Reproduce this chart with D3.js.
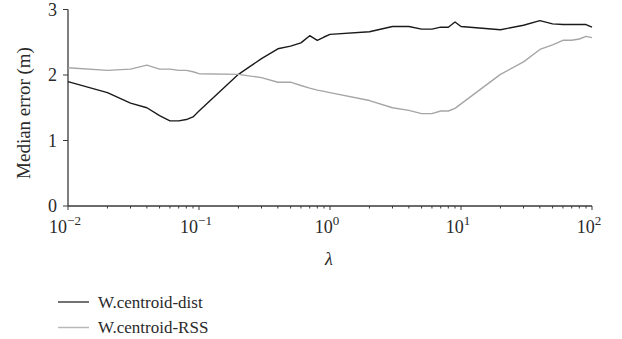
<!DOCTYPE html>
<html>
<head>
<meta charset="utf-8">
<script src="https://cdn.jsdelivr.net/npm/d3@7"></script>
<style>
  html, body { margin: 0; padding: 0; background: #fff; }
  svg { display: block; }
</style>
</head>
<body>
<svg id="chart" width="622" height="339"></svg>
<script>
// Regularisation weight λ sampled on a log grid
const lambdas = [0.01, 0.02, 0.03, 0.04, 0.05, 0.06, 0.07, 0.08, 0.09,
                 0.1, 0.2, 0.3, 0.4, 0.5, 0.6, 0.7, 0.8, 0.9,
                 1, 2, 3, 4, 5, 6, 7, 8, 9,
                 10, 20, 30, 40, 50, 60, 70, 80, 90, 100];

// Median localisation error (m) for each weighting scheme
const distError = [1.90, 1.73, 1.57, 1.50, 1.38, 1.30, 1.30, 1.32, 1.36,
                   1.45, 2.01, 2.25, 2.40, 2.44, 2.49, 2.60, 2.53, 2.58,
                   2.62, 2.66, 2.74, 2.74, 2.70, 2.70, 2.73, 2.73, 2.81,
                   2.74, 2.69, 2.76, 2.83, 2.78, 2.77, 2.77, 2.77, 2.77, 2.73];
const rssError  = [2.11, 2.07, 2.09, 2.15, 2.09, 2.09, 2.07, 2.07, 2.05,
                   2.02, 2.01, 1.96, 1.89, 1.89, 1.84, 1.80, 1.77, 1.75,
                   1.73, 1.61, 1.50, 1.46, 1.41, 1.41, 1.45, 1.45, 1.49,
                   1.56, 2.01, 2.20, 2.39, 2.46, 2.53, 2.53, 2.55, 2.59, 2.57];

const seriesNames = ["W.centroid-dist", "W.centroid-RSS"];
const seriesColors = ["#1a1a1a", "#a6a6a6"];
const yTicks = [0, 1, 2, 3];
const xTickExps = [-2, -1, 0, 1, 2];

const serif = "'Liberation Serif', 'Times New Roman', 'DejaVu Serif', serif";
const svg = d3.select("#chart")
  .style("font-family", serif)
  .attr("font-family", serif);
const plotLeft = 68, plotRight = 592, plotTop = 9.5, plotBottom = 206;

const x = d3.scaleLog().domain([0.01, 100]).range([plotLeft, plotRight]);
const y = d3.scaleLinear().domain([0, 3]).range([plotBottom, plotTop]);

const axisColor = "#3a3a3a";
const textColor = "#2a2a2a";

// x axis with major and minor ticks
const xAxis = svg.append("g").attr("transform", `translate(0,${plotBottom})`);
xAxis.append("line").attr("x1", plotLeft).attr("x2", plotRight)
  .attr("stroke", axisColor).attr("stroke-width", 1.3);
const minorTicks = [];
for (let e = -2; e < 2; e++) for (let m = 2; m <= 9; m++) minorTicks.push(m * Math.pow(10, e));
xAxis.selectAll("line.minor").data(minorTicks).join("line").attr("class", "minor")
  .attr("x1", d => x(d)).attr("x2", d => x(d)).attr("y1", 0).attr("y2", 2.5)
  .attr("stroke", axisColor).attr("stroke-width", 1);
xAxis.selectAll("line.major").data(xTickExps).join("line").attr("class", "major")
  .attr("x1", d => x(Math.pow(10, d))).attr("x2", d => x(Math.pow(10, d)))
  .attr("y1", 0).attr("y2", 4).attr("stroke", axisColor).attr("stroke-width", 1);
const xl = xAxis.selectAll("text.tl").data(xTickExps).join("text").attr("class", "tl")
  .attr("x", d => x(Math.pow(10, d)) - 3).attr("y", 27)
  .attr("text-anchor", "middle").attr("font-size", 18).attr("fill", textColor);
xl.append("tspan").text("10");
xl.append("tspan").attr("dy", -8).attr("font-size", 13).text(d => d < 0 ? "\u2212" + (-d) : d);

// y axis
const yAxis = svg.append("g").attr("transform", `translate(${plotLeft},0)`);
yAxis.append("line").attr("y1", plotTop).attr("y2", plotBottom)
  .attr("stroke", axisColor).attr("stroke-width", 1.3);
yAxis.selectAll("line.tk").data(yTicks).join("line").attr("class", "tk")
  .attr("x1", -5).attr("x2", 0).attr("y1", d => y(d)).attr("y2", d => y(d))
  .attr("stroke", axisColor).attr("stroke-width", 1);
yAxis.selectAll("text").data(yTicks).join("text")
  .attr("x", -11).attr("y", d => y(d) + 6).attr("fill", textColor)
  .attr("text-anchor", "end").attr("font-size", 18).text(d => d);

// axis titles
svg.append("text").attr("transform", "translate(30,113) rotate(-90)")
  .attr("text-anchor", "middle").attr("font-size", 19).attr("fill", textColor)
  .text("Median error (m)");
svg.append("text").attr("x", (plotLeft + plotRight) / 2 - 1).attr("y", 265)
  .attr("text-anchor", "middle").attr("font-size", 18).attr("font-style", "italic")
  .attr("fill", textColor).text("λ");

// series lines
const line = d3.line().x((d, i) => x(lambdas[i])).y(d => y(d));
const series = [distError, rssError];
svg.selectAll("path.series").data(series).join("path").attr("class", "series")
  .attr("d", line).attr("fill", "none")
  .attr("stroke", (d, i) => seriesColors[i]).attr("stroke-width", 1.4)
  .attr("stroke-linejoin", "round");

// legend
const legend = svg.append("g");
const rows = legend.selectAll("g").data(seriesNames).join("g")
  .attr("transform", (d, i) => `translate(58,${302 + i * 25.5})`);
rows.append("line").attr("x1", 0).attr("x2", 31)
  .attr("stroke", (d, i) => i === 0 ? "#444" : "#b8b8b8").attr("stroke-width", 1.5);
rows.append("text").attr("x", 40).attr("y", 5.5).attr("font-size", 17)
  .attr("fill", textColor).text(d => d);
</script>
</body>
</html>
